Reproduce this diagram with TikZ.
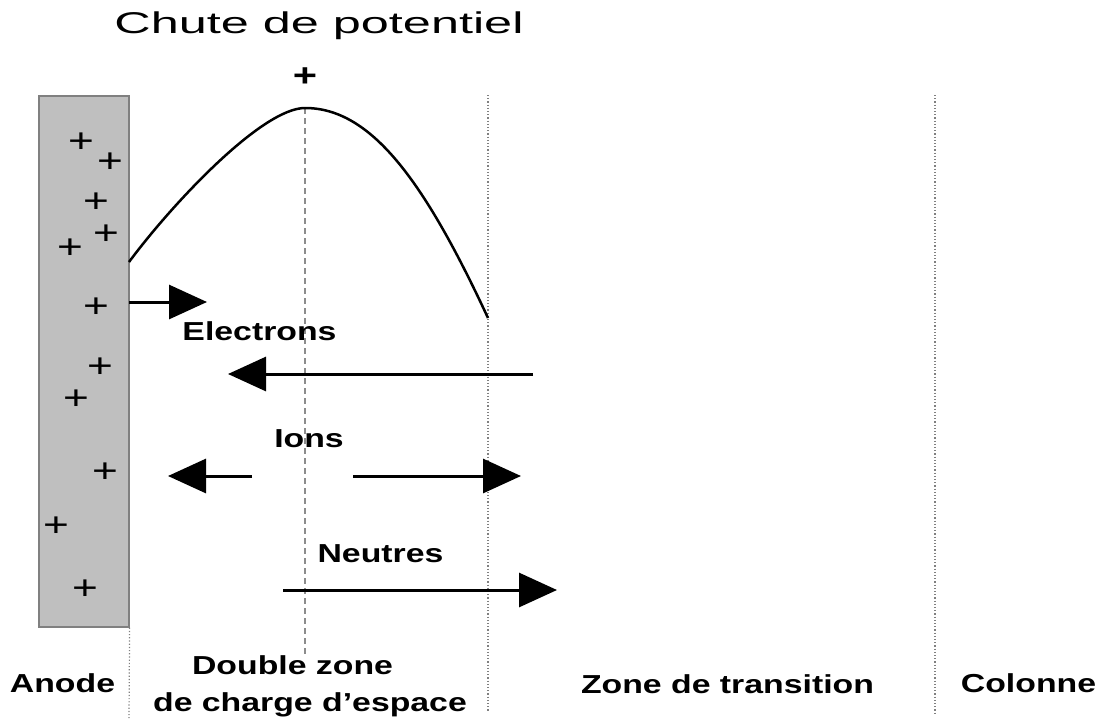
\documentclass[tikz,border=0pt]{standalone}
\usepackage{fontspec}
\usepackage{tikz}
\usetikzlibrary{arrows.meta}
\newfontfamily\titlefont[FakeStretch=1.68]{Liberation Sans}
\newfontfamily\lblfont[FakeStretch=1.3]{Liberation Sans Bold}
\newfontfamily\plusfont[FakeStretch=1.3]{Liberation Sans}

\tikzset{
  lbl/.style={font=\lblfont\fontsize{26}{30}\selectfont, inner sep=0pt, anchor=base},
  charge/.style={font=\plusfont\fontsize{34}{40}\selectfont, inner sep=0pt},
  flux/.style={line width=3pt, -{Triangle[length=38pt,width=34pt]}},
  limite/.style={gray, line width=1.2pt, dotted}
}

\begin{document}
\begin{tikzpicture}[x=1pt,y=-1pt]
    \useasboundingbox (0,0) rectangle (1100,718);
    % anode et charges positives
    \node[draw=gray, fill=black!25, line width=1.2pt, minimum width=90pt, minimum height=531pt, inner sep=0pt] (anode) at (84,361.5) {};
    \foreach \x/\y [count=\i] in {81/143, 110/163, 96/203, 106/235, 70/249, 96/308, 100/368, 76/400, 105/473, 56/527, 85/590}
        \node[charge] (plus\i) at (\x,\y) {+};

    % limites des zones
    \draw[limite] (anode.south east) -- (129,718);
    \draw[black!45, line width=1.2pt, dash pattern=on 6pt off 4pt] (305,108) -- (305,655);
    \draw[limite] (488,95) -- (488,712);
    \draw[limite] (935,95) -- (935,715);

    % chute de potentiel
    \draw[line width=2.5pt] (129,262) .. controls (172,204) and (262,108) .. (305,108)
        .. controls (370,108) and (423,178) .. (488,318);
    \node[font=\titlefont\fontsize{30}{34}\selectfont, inner sep=0pt, anchor=base] (titre) at (319,33) {Chute de potentiel};
    \node[font=\lblfont\fontsize{32}{36}\selectfont, inner sep=0pt] (sommet) at (305,77) {+};

    % flux de particules
    \coordinate (e0) at (129,302);
    \coordinate (e1) at (207,302);
    \coordinate (e2) at (533,374);
    \coordinate (e3) at (228,374);
    \coordinate (i0) at (252,476);
    \coordinate (i1) at (168,476);
    \coordinate (i2) at (353,476);
    \coordinate (i3) at (521,476);
    \coordinate (n0) at (283,590);
    \coordinate (n1) at (557,590);
    \draw[flux] (e0) -- (e1);
    \draw[flux] (e2) -- (e3);
    \draw[flux] (i0) -- (i1);
    \draw[flux] (i2) -- (i3);
    \draw[flux] (n0) -- (n1);
    \node[lbl] (electrons) at (259.5,340) {Electrons};
    \node[lbl] (ions) at (309,447) {Ions};
    \node[lbl] (neutres) at (380.5,562) {Neutres};

    % zones
    \node[lbl] (anodelbl) at (62.5,692) {Anode};
    \node[lbl] (double) at (292.5,674) {Double zone};
    \node[lbl] (espace) at (310,711) {de charge d’espace};
    \node[lbl] (transition) at (727.5,693) {Zone de transition};
    \node[lbl] (colonne) at (1028.5,692) {Colonne};
\end{tikzpicture}
\end{document}
